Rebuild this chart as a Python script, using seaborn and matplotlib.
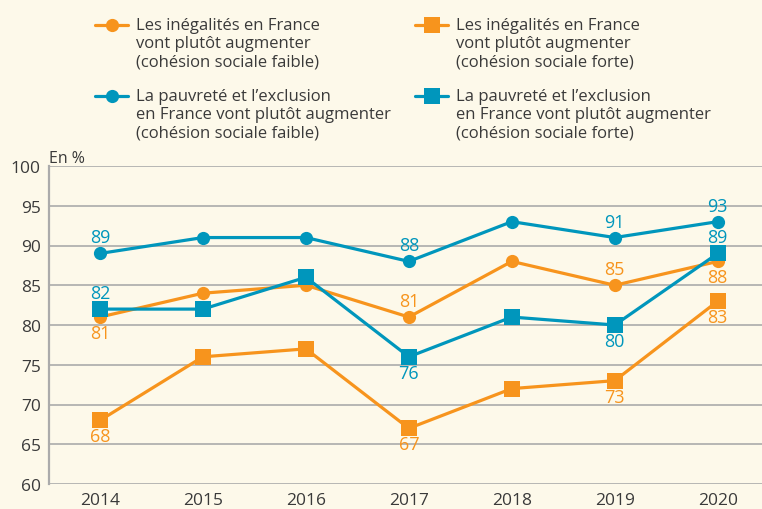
import matplotlib
matplotlib.use("Agg")
import matplotlib.pyplot as plt
import seaborn as sns
from matplotlib.lines import Line2D
from matplotlib.legend_handler import HandlerLine2D

years = [2014, 2015, 2016, 2017, 2018, 2019, 2020]
ineg_faible = [81, 84, 85, 81, 88, 85, 88]
ineg_forte = [68, 76, 77, 67, 72, 73, 83]
pauv_faible = [89, 91, 91, 88, 93, 91, 93]
pauv_forte = [82, 82, 86, 76, 81, 80, 89]

lab_ineg_faible = "Les inégalités en France\nvont plutôt augmenter\n(cohésion sociale faible)"
lab_ineg_forte = "Les inégalités en France\nvont plutôt augmenter\n(cohésion sociale forte)"
lab_pauv_faible = "La pauvreté et l\u2019exclusion\nen France vont plutôt augmenter\n(cohésion sociale faible)"
lab_pauv_forte = "La pauvreté et l\u2019exclusion\nen France vont plutôt augmenter\n(cohésion sociale forte)"

# which points get a value label, and where (+1 above, -1 below)
lbl_ineg_faible = {2014: -1, 2017: 1, 2019: 1, 2020: -1}
lbl_ineg_forte = {2014: -1, 2017: -1, 2019: -1, 2020: -1}
lbl_pauv_faible = {2014: 1, 2017: 1, 2019: 1, 2020: 1}
lbl_pauv_forte = {2014: 1, 2017: -1, 2019: -1, 2020: 1}

ORANGE = "#F7941D"
BLUE = "#0096BC"
BG = "#FDF9EA"
TXT = "#3A3A3A"


class TopLineHandler(HandlerLine2D):
    # put the legend marker next to the first line of a multi-line label
    def __init__(self, shift, **kw):
        super().__init__(**kw)
        self.shift = shift

    def create_artists(self, *args, **kwargs):
        arts = super().create_artists(*args, **kwargs)
        for a in arts:
            a.set_ydata(a.get_ydata() + self.shift)
        return arts


sns.set_theme(style="white")
plt.rcParams["font.family"] = ["Open Sans", "DejaVu Sans"]

fig = plt.figure(figsize=(7.62, 5.10), dpi=100, facecolor=BG)
ax = fig.add_axes([49 / 762, 1 - 485 / 510, 1 - 49 / 762, (485 - 167) / 510])
ax.set_facecolor(BG)

series = [
    (ineg_faible, ORANGE, "o", 9.5, lab_ineg_faible, lbl_ineg_faible),
    (ineg_forte, ORANGE, "s", 11, lab_ineg_forte, lbl_ineg_forte),
    (pauv_faible, BLUE, "o", 9.5, lab_pauv_faible, lbl_pauv_faible),
    (pauv_forte, BLUE, "s", 11, lab_pauv_forte, lbl_pauv_forte),
]

handles = {}
for vals, col, mk, ms, lab, lbls in series:
    sns.lineplot(x=years, y=vals, color=col, marker=mk, markersize=ms,
                 markeredgewidth=0, linewidth=2.3, ax=ax, legend=False)
    handles[lab] = Line2D([], [], color=col, marker=mk, markersize=ms,
                          markeredgewidth=0, linewidth=2.3)
    for yr, pos in lbls.items():
        v = vals[years.index(yr)]
        ax.annotate(str(v), (yr, v), xytext=(0, 11.5 * pos), textcoords="offset points",
                    ha="center", va="center", color=col, fontsize=13)

ax.set_xlim(2013.505, 2020.43)
ax.set_ylim(60, 100)
ax.set_yticks(range(60, 101, 5))
ax.set_xticks(years)
ax.grid(axis="y", color="#ABABAB", linewidth=1.2)
ax.set_axisbelow(True)
for s in ["top", "right", "bottom"]:
    ax.spines[s].set_visible(False)
ax.spines["left"].set_color("#ABABAB")
ax.spines["left"].set_linewidth(1.6)
ax.tick_params(axis="both", length=0, labelsize=12.5, labelcolor=TXT)
ax.tick_params(axis="x", pad=5.5)
ax.tick_params(axis="y", pad=6)
ax.set_xlabel("")
ax.set_ylabel("")
ax.text(0.0, 1.0, "En %", transform=ax.transAxes, ha="left", va="bottom",
        fontsize=11.5, color=TXT)

hmap = {Line2D: TopLineHandler(shift=13)}
for x0, labs in [(95 / 762, [lab_ineg_faible, lab_pauv_faible]),
                 (415 / 762, [lab_ineg_forte, lab_pauv_forte])]:
    leg = fig.legend([handles[l] for l in labs], labs, loc="upper left",
                     bbox_to_anchor=(x0, 1 - 18 / 510), frameon=False, fontsize=12,
                     handlelength=2.0, handletextpad=0.45, labelspacing=1.15,
                     borderpad=0, borderaxespad=0, labelcolor=TXT, handler_map=hmap)
    for t in leg.get_texts():
        t.set_multialignment("left")
        t.set_linespacing(1.17)

fig.savefig("out.png", dpi=100, facecolor=BG)
